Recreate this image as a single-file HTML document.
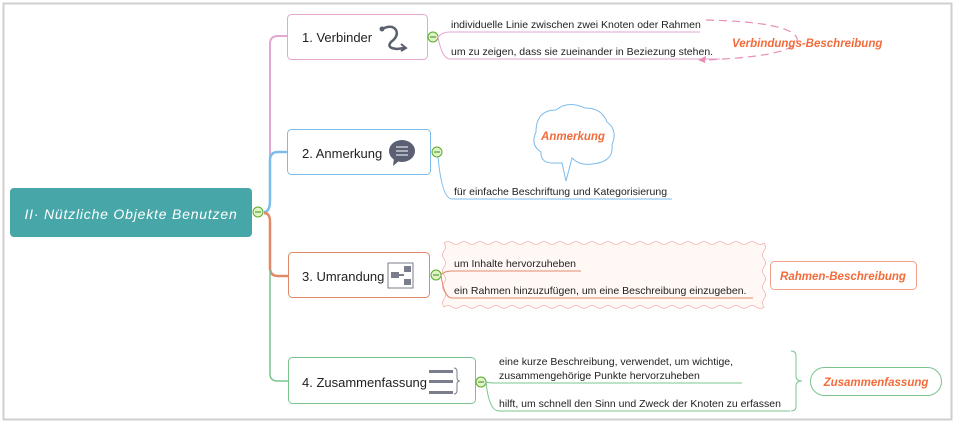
<!DOCTYPE html>
<html><head><meta charset="utf-8"><style>
html,body{margin:0;padding:0;background:#fff;width:956px;height:424px;overflow:hidden}
svg{display:block}
text{font-family:"Liberation Sans","DejaVu Sans",sans-serif}
.s{font-size:10.5px;fill:#222}
.b{font-size:13px;fill:#222}
.o{font-size:11.5px;fill:#F26B3A;font-style:italic;font-weight:bold}
</style></head><body>
<svg width="956" height="424" viewBox="0 0 956 424">
<rect x="3.5" y="3.5" width="948" height="416" fill="#fff" stroke="#cfcfcf" stroke-width="2"/>
<path d="M270 205 L270 44 Q270 36 278 36 L288 36" fill="none" stroke="#E3A7D2" stroke-width="2"/>
<path d="M264 212 Q270 212 270 200 L270 160 Q270 152 278 152 L288 152" fill="none" stroke="#7DBCEB" stroke-width="2.5"/>
<path d="M264 213 Q270 213 270 222 L270 268 Q270 276 278 276 L288 276" fill="none" stroke="#E08A6A" stroke-width="2.5"/>
<path d="M270 270 L270 374 Q270 381 278 381 L288 381" fill="none" stroke="#7CC48F" stroke-width="1.5"/>
<rect x="10" y="188" width="242" height="49" rx="4" fill="#46A6A8"/>
<text x="131" y="219" text-anchor="middle" fill="#fff" font-size="14" font-style="italic" letter-spacing="0.8">II· Nützliche Objekte Benutzen</text>
<circle cx="258" cy="212" r="5" fill="#dff5c8" stroke="#5aaa2a"/><line x1="255" y1="212" x2="261" y2="212" stroke="#3a8a1a"/>
<rect x="287.5" y="14.5" width="140" height="45" rx="4" fill="#fff" stroke="#E3A7D2"/>
<text class="b" x="302" y="42">1. Verbinder</text>
<circle cx="382" cy="29" r="2.5" fill="#5a6070"/>
<path d="M382 29 Q392 24 396 30 Q399 36 391 42 Q386 48 397 49 L404 48" fill="none" stroke="#5a6070" stroke-width="2.5" stroke-linecap="round"/>
<path d="M401 44 L406 48 L401 51" fill="none" stroke="#5a6070" stroke-width="2"/>
<circle cx="433" cy="37" r="5" fill="#dff5c8" stroke="#5aaa2a"/><line x1="430" y1="37" x2="436" y2="37" stroke="#3a8a1a"/>
<path d="M438 37 Q442 32 450 32 L700 32" fill="none" stroke="#E3A7D2"/>
<path d="M438 37 Q442 59 450 59 L720 59" fill="none" stroke="#E3A7D2"/>
<text class="s" x="451" y="28">individuelle Linie zwischen zwei Knoten oder Rahmen</text>
<text class="s" x="451" y="55">um zu zeigen, dass sie zueinander in Beziezung stehen.</text>
<path d="M706 20 Q790 22 797 38 Q800 56 705 60" fill="none" stroke="#E98DB8" stroke-width="1.2" stroke-dasharray="8 5"/>
<path d="M698 60 L706 56 L705 63 Z" fill="#E98DB8"/>
<text class="o" x="732" y="47">Verbindungs-Beschreibung</text>
<rect x="287.5" y="129.5" width="143" height="45" rx="4" fill="#fff" stroke="#7DBCEB"/>
<text class="b" x="302" y="158">2. Anmerkung</text>
<ellipse cx="402" cy="151" rx="13" ry="11" fill="#5a5f73"/>
<path d="M394 158 L393 166 L400 160 Z" fill="#5a5f73"/>
<g stroke="#fff" stroke-width="1"><line x1="396" y1="147" x2="408" y2="147"/><line x1="396" y1="151" x2="408" y2="151"/><line x1="396" y1="155" x2="408" y2="155"/></g>
<circle cx="437" cy="152" r="5" fill="#dff5c8" stroke="#5aaa2a"/><line x1="434" y1="152" x2="440" y2="152" stroke="#3a8a1a"/>
<path d="M438 157 Q442 199 452 199 L672 199" fill="none" stroke="#7DBCEB"/>
<text class="s" x="454" y="195">für einfache Beschriftung und Kategorisierung</text>
<path d="M556 163 Q540 164 541 152 Q530 145 536 132 Q536 110 556 110 Q568 100 585 108 Q602 108 607 122 Q618 130 612 145 Q614 162 592 164 Q580 166 572 158 L566 181 L562 163 Q560 163 556 163 Z" fill="#fff" stroke="#7DBCEB"/>
<text class="o" x="573" y="140" text-anchor="middle">Anmerkung</text>
<rect x="288.5" y="252.5" width="141" height="45" rx="4" fill="#fff" stroke="#E08A6A"/>
<text class="b" x="302" y="281">3. Umrandung</text>
<g fill="#7a7e8c"><rect x="388" y="263" width="25" height="25" fill="none" stroke="#7a7e8c"/><rect x="391" y="272" width="8" height="6"/><rect x="404" y="266" width="7" height="6"/><rect x="404" y="279" width="7" height="6"/><rect x="399" y="274" width="5" height="2"/></g>
<path d="M444 243 q4 -3 8 0 q4 3 8 0 q4 -3 8 0 q4 3 8 0 q4 -3 8 0 q4 3 8 0 q4 -3 8 0 q4 3 8 0 q4 -3 8 0 q4 3 8 0 q4 -3 8 0 q4 3 8 0 q4 -3 8 0 q4 3 8 0 q4 -3 8 0 q4 3 8 0 q4 -3 8 0 q4 3 8 0 q4 -3 8 0 q4 3 8 0 q4 -3 8 0 q4 3 8 0 q4 -3 8 0 q4 3 8 0 q4 -3 8 0 q4 3 8 0 q4 -3 8 0 q4 3 8 0 q4 -3 8 0 q4 3 8 0 q4 -3 8 0 q4 3 8 0 q4 -3 8 0 q4 3 8 0 q4 -3 8 0 q4 3 8 0 q4 -3 8 0 q4 3 8 0 q4 -3 8 0 q4 3 8 0
 q3 4 0 8 q-3 4 0 8 q3 4 0 8 q-3 4 0 8 q3 4 0 8 q-3 4 0 8 q3 4 0 8 q-3 4 0 8
 q-4 3 -8 0 q-4 -3 -8 0 q-4 3 -8 0 q-4 -3 -8 0 q-4 3 -8 0 q-4 -3 -8 0 q-4 3 -8 0 q-4 -3 -8 0 q-4 3 -8 0 q-4 -3 -8 0 q-4 3 -8 0 q-4 -3 -8 0 q-4 3 -8 0 q-4 -3 -8 0 q-4 3 -8 0 q-4 -3 -8 0 q-4 3 -8 0 q-4 -3 -8 0 q-4 3 -8 0 q-4 -3 -8 0 q-4 3 -8 0 q-4 -3 -8 0 q-4 3 -8 0 q-4 -3 -8 0 q-4 3 -8 0 q-4 -3 -8 0 q-4 3 -8 0 q-4 -3 -8 0 q-4 3 -8 0 q-4 -3 -8 0 q-4 3 -8 0 q-4 -3 -8 0 q-4 3 -8 0 q-4 -3 -8 0 q-4 3 -8 0 q-4 -3 -8 0 q-4 3 -8 0 q-4 -3 -8 0 q-4 3 -8 0 q-4 -3 -8 0
 q-3 -4 0 -8 q3 -4 0 -8 q-3 -4 0 -8 q3 -4 0 -8 q-3 -4 0 -8 q3 -4 0 -8 q-3 -4 0 -8 q3 -4 0 -8 Z" fill="#FFF8F5" stroke="#F2B3B3" stroke-width="0.8"/>
<circle cx="436" cy="275" r="5" fill="#dff5c8" stroke="#5aaa2a"/><line x1="433" y1="275" x2="439" y2="275" stroke="#3a8a1a"/>
<path d="M441 275 Q444 271 452 271 L581 271" fill="none" stroke="#E08A6A"/>
<path d="M441 275 Q444 298 452 298 L753 298" fill="none" stroke="#E08A6A"/>
<text class="s" x="454" y="267">um Inhalte hervorzuheben</text>
<text class="s" x="454" y="294">ein Rahmen hinzuzufügen, um eine Beschreibung einzugeben.</text>
<rect x="770.5" y="261.5" width="146" height="28" rx="4" fill="#fff" stroke="#F2A08A"/>
<text class="o" x="843" y="280" text-anchor="middle">Rahmen-Beschreibung</text>
<rect x="288.5" y="357.5" width="187" height="46" rx="4" fill="#fff" stroke="#7CC48F"/>
<text class="b" x="302" y="387">4. Zusammenfassung</text>
<g fill="#7a7e8c"><rect x="429" y="370" width="24" height="3"/><rect x="429" y="380" width="24" height="3"/><rect x="429" y="391" width="24" height="3"/></g>
<path d="M454 368 q3 0 3 4 l0 6 q0 3 3 3 q-3 0 -3 3 l0 6 q0 4 -3 4" fill="none" stroke="#7a7e8c"/>
<circle cx="481" cy="382" r="5" fill="#dff5c8" stroke="#5aaa2a"/><line x1="478" y1="382" x2="484" y2="382" stroke="#3a8a1a"/>
<path d="M486 382 Q489 383 495 383 L742 383" fill="none" stroke="#7CC48F"/>
<path d="M486 382 Q489 411 499 411 L790 411" fill="none" stroke="#7CC48F"/>
<text class="s" x="499" y="365">eine kurze Beschreibung, verwendet, um wichtige,</text>
<text class="s" x="499" y="379">zusammengehörige Punkte hervorzuheben</text>
<text class="s" x="499" y="407">hilft, um schnell den Sinn und Zweck der Knoten zu erfassen</text>
<path d="M791 351 q5 0 5 5 l0 20 q0 5 6 5 q-6 0 -6 5 l0 20 q0 5 -5 5" fill="none" stroke="#7CC48F"/>
<rect x="810.5" y="367.5" width="131" height="28" rx="14" fill="#fff" stroke="#7CC48F"/>
<text class="o" x="876" y="386" text-anchor="middle">Zusammenfassung</text>
</svg>
</body></html>
